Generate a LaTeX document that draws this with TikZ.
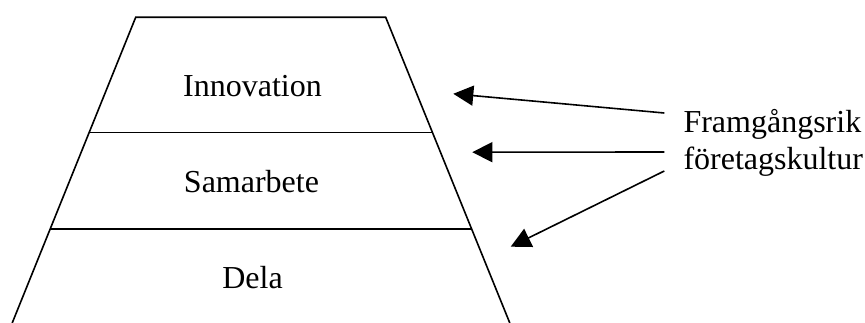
\documentclass[tikz,border=0pt]{standalone}
\usepackage{fontspec}
\setmainfont{Liberation Serif}
\usetikzlibrary{arrows.meta}
\begin{document}
\begin{tikzpicture}[x=1pt,y=-1pt,
  edge/.style={line width=1.6pt},
  lbl/.style={inner sep=0pt, anchor=base, font=\fontsize{32}{38}\selectfont},
  rlbl/.style={inner sep=0pt, anchor=base west, font=\fontsize{32}{38}\selectfont},
  arr/.style={line width=1.6pt, -{Triangle[length=20pt,width=20pt]}}]
\useasboundingbox (0,0) rectangle (865,323);
% trapezoid corners
\coordinate (tl) at (135.7,17.3);
\coordinate (tr) at (385.7,17.3);
\coordinate (bl) at (12.2,323);
\coordinate (br) at (509.8,323);
\coordinate (l1) at (89,132.7);
\coordinate (r1) at (432.6,132.7);
\coordinate (l2) at (50,229);
\coordinate (r2) at (471.7,229);
\draw[edge] (bl) -- (tl) -- (tr) -- (br);
\draw[edge] (l1) -- (r1);
\draw[edge] (l2) -- (r2);
% labels
\node[lbl] (inn) at (252.5,96.7) {Innovation};
\node[lbl] (sam) at (251.5,193) {Samarbete};
\node[lbl] (del) at (252.5,288) {Dela};
\node[rlbl] (fr1) at (683.3,132.7) {Framgångsrik};
\node[rlbl] (fr2) at (683.3,170) {företagskultur};
% arrows
\coordinate (s1) at (664.3,113);
\coordinate (s2) at (664.3,152);
\coordinate (s3) at (664.3,171);
\coordinate (e1) at (453.3,93.8);
\coordinate (e2) at (472.3,152.2);
\coordinate (e3) at (510.7,246.7);
\draw[arr] (s1) -- (e1);
\draw[arr] (s2) -- (e2);
\draw[arr] (s3) -- (e3);
\end{tikzpicture}
\end{document}
